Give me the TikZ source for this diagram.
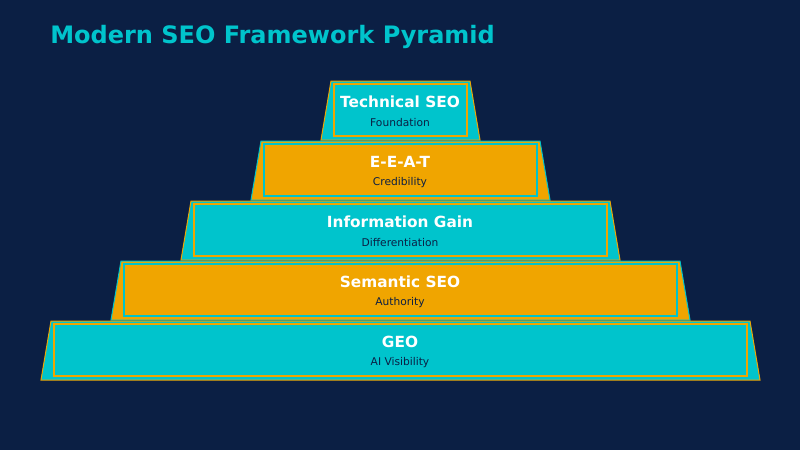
\documentclass[tikz,border=0pt]{standalone}
\usepackage{fontspec}
\setmainfont{DejaVu Sans}
\begin{document}
\definecolor{bg}{HTML}{0B1F44}
\definecolor{cy}{HTML}{00C4CC}
\definecolor{og}{HTML}{F0A500}
\begin{tikzpicture}[x=0.75pt,y=-0.75pt,
  tt/.style={font=\bfseries\fontsize{11.5}{13}\selectfont,text=white,inner sep=0},
  st/.style={font=\fontsize{8}{10}\selectfont,text=bg,inner sep=0}]
\fill[bg] (0,0) rectangle (800,450);
\useasboundingbox (0,0) rectangle (800,450);
\node[anchor=west,text=cy,font=\bfseries\fontsize{18}{22}\selectfont,inner sep=0] (title) at (50,37) {Modern SEO Framework Pyramid};
\foreach \i/\t/\s/\f/\b in {0/Technical SEO/Foundation/cy/og,1/E-E-A-T/Credibility/og/cy,2/Information Gain/Differentiation/cy/og,3/Semantic SEO/Authority/og/cy,4/GEO/AI Visibility/cy/og}{
  \pgfmathsetmacro{\yt}{81+60*\i}
  \pgfmathsetmacro{\yb}{\yt+59}
  \pgfmathsetmacro{\xl}{331-70*\i}
  \pgfmathsetmacro{\xr}{470+70*\i}
  \draw[fill=\f,draw=\b,line width=0.75pt] (\xl,\yt) -- (\xr,\yt) -- (\xr+10,\yb) -- (\xl-10,\yb) -- cycle;
  \draw[draw=\b,line width=1.1pt] (\xl+3,\yt+3) rectangle (\xr-3,\yb-4);
  \node[tt] (t\i) at (400,\yt+21) {\t};
  \node[st] (s\i) at (400,\yt+42) {\s};
}
\end{tikzpicture}
\end{document}
